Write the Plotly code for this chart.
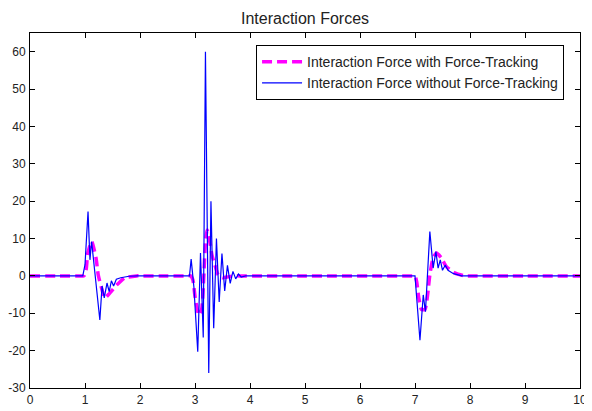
import plotly.graph_objects as go

# Interaction force without force-tracking (blue)
t_without = [0, 0.96, 1.0, 1.055, 1.09, 1.12, 1.27, 1.31, 1.35, 1.40, 1.44, 1.48, 1.52, 1.57, 1.65, 1.80, 1.95,
             2.90, 2.93, 2.98, 3.05, 3.10, 3.15, 3.19, 3.25, 3.29, 3.34, 3.39, 3.44, 3.49, 3.54, 3.59, 3.64,
             3.69, 3.74, 3.79, 3.84, 3.92,
             7.00, 7.09, 7.15, 7.19, 7.27, 7.33, 7.38, 7.42, 7.46, 7.50, 7.55, 7.60, 7.70, 7.85, 10]
f_without = [0, 0, 3, 17.2, 4.3, 9.2, -11.8, -2.7, -5.9, -1.9, -4.2, -1.3, -2.7, -0.9, -0.5, -0.1, 0,
             0, 4.5, -3, -20.3, 6.1, -16.5, 60, -26, 20, -14, 10, -7, 6, -4, 2.8, -2,
             1.2, -0.8, 0.5, -0.3, 0,
             0, -17.2, -5.1, -9.6, 11.9, 2.1, 6.5, 2.1, 4.3, 1.5, 2.9, 1.5, 0.6, 0, 0]

# Interaction force with force-tracking (magenta)
t_with = [0, 0.5, 0.94, 0.98, 1.02, 1.05, 1.12, 1.20, 1.24, 1.30, 1.36, 1.45, 1.58, 1.73, 1.94, 2.0, 2.5,
          2.86, 2.92, 2.96, 3.00, 3.03, 3.07, 3.12, 3.16, 3.19, 3.22, 3.26, 3.31, 3.36, 3.42, 3.50, 3.62,
          3.75, 3.85, 5.0, 6.9, 6.96,
          7.00, 7.03, 7.07, 7.12, 7.18, 7.23, 7.27, 7.33, 7.39, 7.48, 7.57, 7.72, 7.90, 8.0, 9.0, 10]
f_with = [0, 0, 0, 0, 1.6, 6, 9.2, 4.8, 0.3, -3.2, -5.9, -4.6, -2.4, -0.5, 0, 0, 0,
          0, 0, -1, -5.5, -8, -10.5, -9, 0, 9, 12.3, 10, 5.5, 3, 0.3, -0.5, -0.2,
          0, 0, 0, 0, 0,
          0, -1.5, -6, -9, -9, -5, 0.3, 4.8, 6.1, 4.8, 2.5, 0.8, 0, 0, 0, 0]

x_ticks = list(range(0, 11))
y_ticks = list(range(-30, 61, 10))
y_tick_labels = [str(v) for v in y_ticks]

fig = go.Figure()
fig.add_trace(go.Scatter(
    x=t_with, y=f_with, mode="lines",
    name="Interaction Force with Force-Tracking",
    line=dict(color="#FF00FF", width=3.5, dash="10px,5px", shape="spline", smoothing=0.6),
))
fig.add_trace(go.Scatter(
    x=t_without, y=f_without, mode="lines",
    name="Interaction Force without Force-Tracking",
    line=dict(color="#0000FF", width=1.2),
))

axis_common = dict(showline=True, linecolor="black", linewidth=1, mirror="ticks",
                   ticks="inside", ticklen=5, tickcolor="black", showgrid=False, zeroline=False,
                   automargin=False,
                   tickfont=dict(family="Liberation Sans, Arial", size=12, color="#222222"))

# page body adds an 8px offset, so the figure is sized/margined to compensate
W, H = 584, 403
fig.update_layout(
    width=W, height=H,
    margin=dict(l=22, r=12, t=25, b=23),
    paper_bgcolor="white", plot_bgcolor="white",
    title=dict(text="Interaction Forces", x=297 / W, xanchor="center",
               y=1 - 10 / H, yanchor="middle",
               font=dict(family="Liberation Sans, Arial", size=16, color="#222222")),
    xaxis=dict(range=[0, 10], tickvals=x_ticks, ticklabelstandoff=1, **axis_common),
    yaxis=dict(range=[-30, 65], tickvals=y_ticks, ticktext=y_tick_labels, ticklabelstandoff=1, **axis_common),
    legend=dict(x=0.971, y=0.966, xanchor="right", yanchor="top",
                bgcolor="white", bordercolor="black", borderwidth=1,
                font=dict(family="Liberation Sans, Arial", size=14, color="#222222"),
                tracegroupgap=0, itemwidth=40),
    showlegend=True,
)

fig.write_html("out.html")
